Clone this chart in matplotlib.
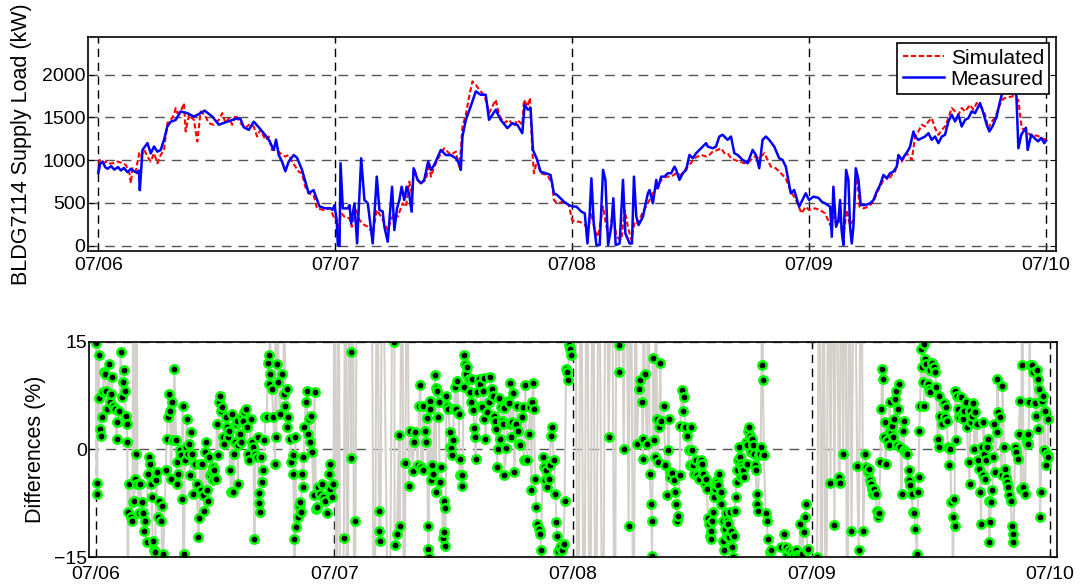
import matplotlib
matplotlib.use("Agg")
import matplotlib.pyplot as plt

plt.rcParams["font.family"] = ["Liberation Sans", "DejaVu Sans"]

# hours since 07/06 00:00
day_ticks = [0, 24, 48, 72, 96]
day_labels = ["07/06", "07/07", "07/08", "07/09", "07/10"]

# measured supply load (hour, kW)
measured = [
    (0.0, 850), (0.2, 960), (0.44, 985), (0.7, 920), (0.94, 900), (1.3, 930), (1.62, 890), (2.0, 920),
    (2.29, 880), (2.6, 910), (2.96, 860), (3.3, 900), (3.64, 870), (3.97, 850), (4.12, 880), (4.21, 650),
    (4.48, 1120), (4.98, 1200), (5.32, 1080), (5.65, 1160), (5.99, 1100), (6.33, 1120), (6.66, 1240),
    (7.0, 1395), (7.34, 1450), (7.84, 1470), (8.35, 1570), (9.02, 1550), (9.69, 1510), (10.2, 1540),
    (10.77, 1580), (11.55, 1510), (12.22, 1415), (13.06, 1450), (14.07, 1490), (14.41, 1480), (14.74, 1385),
    (15.25, 1355), (15.75, 1450), (16.26, 1385), (16.76, 1315), (17.27, 1240), (17.77, 1120), (18.01, 1240),
    (18.28, 1060), (18.61, 985), (18.95, 870), (19.29, 985), (19.79, 1060), (20.13, 1030), (20.63, 890),
    (21.31, 615), (21.81, 650), (22.41, 460), (22.99, 437), (23.5, 440), (23.73, 420), (23.93, 475),
    (24.0, 418), (24.15, 300), (24.27, 0), (24.44, 0), (24.54, 965), (24.77, 437), (25.28, 437), (25.45, 476),
    (25.62, 260), (25.95, 496), (26.22, 27), (26.63, 1023), (26.96, 535), (27.3, 496), (27.8, 27), (28.21, 808),
    (28.48, 418), (28.81, 400), (28.98, 222), (29.32, 47), (29.76, 690), (29.99, 183), (30.26, 437), (30.5, 535),
    (30.73, 690), (31.0, 535), (31.24, 690), (31.5, 600), (31.74, 398), (31.94, 906), (32.35, 770), (32.68, 730),
    (33.02, 770), (33.42, 985), (33.69, 886), (34.03, 945), (34.7, 1120), (35.21, 1060), (35.71, 1060),
    (36.22, 1023), (36.56, 960), (36.72, 886), (36.89, 1277), (37.23, 1472), (37.73, 1630), (38.24, 1805),
    (38.74, 1765), (39.25, 1765), (39.58, 1472), (40.26, 1590), (40.76, 1472), (41.44, 1375), (41.94, 1433),
    (42.45, 1414), (42.95, 1316), (43.19, 1648), (43.52, 1590), (43.79, 1610), (44.03, 1120), (44.46, 1004),
    (44.8, 867), (45.31, 848), (45.81, 828), (46.15, 613), (46.48, 594), (47.16, 516), (47.66, 476),
    (48.0, 460), (48.44, 457), (48.94, 398), (49.28, 379), (49.55, 27), (49.78, 379), (49.95, 789), (50.19, 262),
    (50.46, 8), (50.79, 8), (51.13, 887), (51.37, 770), (51.64, 8), (51.97, 222), (52.17, 555), (52.41, 8),
    (52.81, 27), (53.15, 770), (53.39, 144), (53.82, 27), (54.06, 27), (54.26, 808), (54.5, 340), (54.73, 242),
    (55.17, 340), (55.67, 613), (55.84, 652), (56.18, 496), (56.52, 770), (56.68, 672), (57.02, 808),
    (57.36, 808), (57.69, 848), (58.03, 848), (58.37, 925), (58.54, 887), (58.87, 770), (59.21, 848),
    (59.55, 887), (59.88, 1062), (60.22, 1023), (60.56, 1082), (61.06, 1140), (61.57, 1199), (61.73, 1160),
    (62.24, 1140), (62.57, 1160), (62.91, 1277), (63.25, 1297), (63.75, 1238), (64.09, 1277), (64.43, 1082),
    (64.76, 1062), (65.27, 1004), (65.77, 965), (66.28, 1120), (66.61, 1062), (66.95, 906), (67.29, 1238),
    (67.62, 1277), (67.96, 1238), (68.47, 1160), (68.97, 1023), (69.31, 1004), (69.64, 925), (70.15, 613),
    (70.49, 652), (70.99, 457), (71.33, 535), (71.66, 613),
    (72.0, 535), (72.44, 574), (72.95, 560), (73.28, 516), (73.62, 496), (74.13, 457), (74.3, 105), (74.46, 690),
    (74.73, 222), (74.97, 300), (75.14, 535), (75.31, 164), (75.48, 8), (75.75, 887), (75.98, 770), (76.15, 222),
    (76.32, 27), (76.49, 222), (76.73, 906), (77.0, 770), (77.23, 476), (77.67, 476), (78.18, 496), (78.52, 535),
    (78.85, 633), (79.19, 711), (79.53, 828), (79.87, 789), (80.2, 848), (80.54, 867), (80.88, 925), (81.05, 1062),
    (81.39, 1004), (81.72, 1062), (82.06, 1120), (82.23, 1160), (82.57, 1336), (82.74, 1277), (83.07, 1238),
    (83.41, 1258), (83.75, 1277), (84.09, 1316), (84.42, 1238), (84.76, 1277), (85.1, 1199), (85.44, 1277),
    (85.77, 1297), (86.11, 1453), (86.45, 1531), (86.79, 1453), (87.12, 1531), (87.46, 1394), (87.8, 1472),
    (88.14, 1492), (88.47, 1570), (88.81, 1550), (89.32, 1668), (89.66, 1550), (89.99, 1414), (90.26, 1336),
    (90.6, 1400), (91.0, 1512), (91.3, 1668), (91.7, 1850), (92.2, 1950), (92.7, 1900), (93.0, 1750),
    (93.2, 1140), (93.5, 1300), (93.97, 1380), (94.14, 1120), (94.5, 1300), (94.9, 1250), (95.2, 1220),
    (95.5, 1260), (95.83, 1200), (96.0, 1230),
]

# simulated supply load (hour, kW)
simulated = [
    (0.0, 867), (0.13, 1004), (0.44, 965), (0.94, 985), (1.2, 960), (1.45, 965), (1.95, 985), (2.46, 965),
    (2.79, 945), (3.13, 867), (3.3, 730), (3.47, 906), (3.8, 867), (4.14, 1082), (4.31, 1043), (4.65, 1120),
    (4.98, 1043), (5.32, 985), (5.65, 1082), (5.99, 965), (6.33, 1062), (6.66, 1120), (7.0, 1433), (7.34, 1472),
    (7.67, 1530), (7.84, 1610), (8.01, 1550), (8.35, 1570), (8.68, 1668), (8.85, 1336), (9.19, 1530),
    (9.69, 1472), (10.03, 1219), (10.37, 1570), (10.77, 1530), (11.21, 1433), (11.71, 1414), (12.22, 1472),
    (12.56, 1550), (12.89, 1433), (13.23, 1492), (13.57, 1414), (13.9, 1531), (14.41, 1433), (14.91, 1375),
    (15.25, 1414), (15.75, 1394), (16.09, 1277), (16.43, 1355), (16.93, 1238), (17.27, 1277), (17.6, 1120),
    (18.11, 1120), (18.61, 1062), (18.95, 1043), (19.29, 1062), (19.62, 985), (19.96, 925), (20.3, 867),
    (20.63, 848), (20.97, 690), (21.31, 613), (21.81, 594), (22.15, 437), (22.82, 418), (23.5, 437), (23.83, 340),
    (24.0, 350), (24.27, 222), (24.61, 380), (24.94, 340), (25.45, 320), (25.68, 222), (26.12, 437), (26.46, 300),
    (26.96, 242), (27.3, 222), (27.8, 144), (28.21, 418), (28.65, 340), (28.98, 262), (29.32, 183), (29.65, 300),
    (29.99, 380), (30.33, 340), (30.83, 496), (31.17, 457), (31.51, 750), (31.74, 610), (32.01, 906),
    (32.35, 770), (32.68, 730), (33.19, 770), (33.53, 965), (33.69, 808), (34.03, 925), (34.54, 1043),
    (35.04, 1140), (35.71, 1062), (36.22, 1101), (36.56, 925), (36.72, 1120), (36.89, 1395), (37.23, 1530),
    (37.57, 1746), (37.9, 1922), (38.24, 1882), (38.58, 1824), (38.91, 1785), (39.25, 1707), (39.58, 1550),
    (39.92, 1628), (40.26, 1707), (40.6, 1530), (41.1, 1433), (41.6, 1472), (42.11, 1395), (42.45, 1472),
    (42.95, 1414), (43.12, 1707), (43.46, 1628), (43.72, 1726), (43.96, 1120), (44.13, 848), (44.46, 1004),
    (44.8, 848), (45.47, 828), (45.98, 730), (46.15, 535), (46.48, 496), (47.16, 516), (47.66, 476),
    (48.0, 300), (48.27, 281), (48.77, 281), (49.28, 242), (49.62, 203), (49.95, 379), (50.29, 183),
    (50.63, 105), (51.13, 457), (51.47, 222), (51.8, 125), (52.14, 418), (52.48, 105), (52.98, 66),
    (53.32, 418), (53.65, 222), (53.99, 66), (54.33, 281), (54.66, 262), (55.17, 398), (55.67, 496),
    (56.01, 574), (56.35, 652), (56.68, 690), (57.02, 770), (57.53, 808), (58.03, 808), (58.54, 848),
    (59.04, 828), (59.55, 906), (59.88, 945), (60.39, 1023), (60.72, 1043), (61.06, 1062), (61.57, 1043),
    (61.9, 1062), (62.24, 1101), (62.75, 1120), (63.08, 1140), (63.42, 1082), (63.75, 1082), (64.09, 1023),
    (64.43, 1004), (64.93, 985), (65.44, 965), (65.94, 985), (66.45, 1043), (66.95, 1023), (67.46, 1082),
    (67.79, 1004), (68.13, 925), (68.63, 906), (69.14, 848), (69.64, 789), (70.15, 633), (70.49, 574),
    (70.82, 496), (71.23, 379), (71.66, 457),
    (72.0, 418), (72.61, 437), (73.11, 418), (73.62, 379), (74.13, 242), (74.46, 340), (74.8, 242),
    (75.14, 300), (75.48, 105), (75.81, 418), (76.15, 242), (76.49, 300), (76.83, 887), (77.1, 457),
    (77.5, 437), (78.01, 457), (78.52, 516), (79.02, 652), (79.36, 730), (79.7, 808), (80.03, 770),
    (80.37, 828), (80.71, 867), (81.05, 1004), (81.39, 985), (81.89, 1082), (82.4, 1004), (82.74, 1277),
    (83.07, 1336), (83.41, 1414), (83.75, 1394), (84.09, 1453), (84.42, 1492), (84.76, 1375), (85.1, 1297),
    (85.44, 1355), (85.77, 1394), (86.11, 1492), (86.45, 1610), (86.79, 1570), (87.12, 1531), (87.46, 1610),
    (87.8, 1570), (88.31, 1648), (88.64, 1590), (88.98, 1668), (89.49, 1610), (89.83, 1531), (90.16, 1375),
    (90.5, 1450), (90.84, 1500), (91.34, 1650), (91.68, 1720), (92.69, 1750), (93.2, 1700), (93.54, 1375),
    (94.05, 1336), (94.55, 1277), (95.06, 1290), (95.57, 1260), (95.9, 1238), (96.0, 1280),
]

# differences (hour, %); +-40 are off-scale samples
diff_day1 = [
    (0.0, 14.8), (0.07, -4.6), (0.13, -6.2), (0.22, 40), (0.30, 13.2), (0.32, 7.2), (0.40, 2.9), (0.50, 1.9),
    (0.57, 4.5), (0.67, 8.0), (0.81, 10.8), (0.91, 10.5), (1.01, 8.2), (1.14, 5.7), (1.28, 11.9), (1.41, 6.6),
    (1.51, 7.7), (1.61, 10.1), (1.75, 6.1), (1.91, 5.7), (2.08, 1.5), (2.15, 3.8), (2.35, 5.4), (2.48, 13.6),
    (2.62, 7.3), (2.75, 9.4), (2.82, 11.0), (2.92, 8.2), (2.99, 4.7), (3.09, 3.6), (3.16, 1.0), (3.22, -40),
    (3.26, -8.7), (3.36, -4.8), (3.49, -9.4), (3.59, -9.9), (3.69, -7.3), (3.75, 40), (3.83, -7.1), (3.93, -4.1),
    (3.99, -0.6), (4.08, 40), (4.16, -4.8), (4.36, -8.9), (4.43, -4.8), (4.60, -7.3), (4.70, -8.9), (4.83, -11.3),
    (4.97, -9.9), (5.10, -12.9), (5.20, -3.4), (5.34, -1.1), (5.44, -2.0), (5.51, -4.8), (5.61, -6.6),
    (5.71, -12.7), (5.84, -14.0), (5.98, -14.3), (6.04, -4.3), (6.11, -3.2), (6.21, -9.4), (6.38, -7.1),
    (6.51, -9.9), (6.61, -7.8), (6.70, -40), (6.78, -14.6), (7.02, -2.9), (7.12, 1.5), (7.22, 4.5), (7.32, 7.7),
    (7.45, 5.4), (7.55, -4.1), (7.69, 6.6), (7.79, 1.3), (7.89, 11.2), (8.06, 1.3), (8.12, -4.8), (8.19, -1.8),
    (8.29, -3.4), (8.46, -0.1), (8.53, -0.8), (8.63, -6.9), (8.73, 6.0), (8.80, -40), (8.86, -14.5), (8.96, -1.5),
    (9.03, 0.3), (9.13, 4.3), (9.26, -0.6), (9.33, 0.8), (9.47, -3.6), (9.57, 2.4), (9.70, -0.6), (9.80, -6.2),
    (9.97, -2.0), (10.14, -4.8), (10.31, -12.2), (10.41, -9.6), (10.47, -2.0), (10.57, -5.7), (10.71, -2.0),
    (10.81, -6.4), (10.88, -8.5), (10.98, -0.4), (11.04, 1.0), (11.14, -5.7), (11.25, -7.1), (11.38, -1.1),
    (11.51, -3.6), (11.65, -3.2), (11.75, -4.3), (11.82, -2.5), (11.92, -2.8), (12.08, -4.1), (12.15, 3.6),
    (12.32, -0.7), (12.42, 6.6), (12.49, 7.5), (12.59, 5.4), (12.69, 5.9), (12.82, 1.7), (12.92, 0.8),
    (13.06, 4.5), (13.16, 3.1), (13.33, 1.7), (13.43, 2.6), (13.49, -2.9), (13.60, -5.9), (13.70, 5.0),
    (13.83, -5.9), (13.93, -0.6), (14.00, 1.0), (14.10, 3.6), (14.17, 4.0), (14.27, -4.8), (14.33, 0.6),
    (14.50, 2.2), (14.60, 1.0), (14.74, 4.5), (14.84, 4.0), (14.94, 5.2), (15.11, 5.7), (15.17, 3.1),
    (15.27, -0.6), (15.37, -1.5), (15.58, 4.3), (15.71, 1.0), (15.84, 0.3), (15.94, -12.4), (16.05, -0.6),
    (16.18, -1.1), (16.28, 1.7), (16.38, -6.1), (16.45, -7.5), (16.52, -8.7), (16.62, -1.1), (16.72, -4.5),
    (16.85, -2.9), (16.95, 1.3), (17.05, 4.5), (17.19, 4.5), (17.29, 12.1), (17.39, 9.1), (17.46, 13.1),
    (17.50, 40), (17.56, 10.5), (17.69, 8.4), (17.86, 4.5), (18.03, -2.0), (18.08, 40), (18.13, 1.7),
    (18.19, 11.9), (18.25, 40), (18.36, 9.4), (18.53, 5.0), (18.70, 10.5), (18.87, 7.7), (18.95, 40),
    (19.03, 6.1), (19.20, 3.1), (19.27, 8.4), (19.37, 4.5), (19.54, 1.5), (19.67, -1.8), (19.81, -0.8),
    (19.87, -3.4), (19.94, -12.4), (19.98, -40), (20.04, 1.7), (20.14, -10.8), (20.28, -9.4), (20.41, -7.8),
    (20.54, -7.3), (20.64, -8.7), (20.75, -3.4), (20.81, -1.1), (20.88, -5.2), (20.98, 3.1), (21.11, 6.6),
    (21.22, 8.2), (21.32, 2.2), (21.42, 4.3), (21.55, 1.0), (21.65, 4.7), (21.75, -0.4), (21.89, -6.4),
    (21.99, 8.0), (22.16, -8.3), (22.29, -8.0), (22.39, -5.2), (22.56, -6.2), (22.73, -4.8), (22.89, -6.6),
    (23.06, -7.1), (23.23, -8.9), (23.40, -3.4), (23.50, -5.5), (23.57, -2.0), (23.73, -6.6), (23.90, -4.8),
]
diff_day2 = [
    (24.02, 40), (24.2, -40), (24.4, 40), (24.6, -40), (24.94, -12.3), (25.1, 40), (25.3, -40), (25.5, 40),
    (25.68, -1.2), (25.70, 13.5), (25.85, 40), (26.0, -40), (26.11, -10.0), (26.3, 40), (27.7, 40), (28.0, -40),
    (28.3, 40), (28.46, -8.6), (28.48, -11.4), (28.63, -12.7), (28.8, 40), (29.5, -40), (29.9, 40),
    (30.03, 14.9), (30.05, -13.3), (30.30, -11.7), (30.47, 2.0), (30.57, -10.7), (30.8, 40), (31.0, -40),
    (31.14, -1.9), (31.3, 40), (31.48, -5.1), (31.64, 2.6), (31.91, -3.0), (31.98, 1.0), (32.15, 2.4),
    (32.38, -2.1), (32.51, 6.1), (32.65, 9.0), (32.72, -2.5), (32.92, -2.8), (32.93, 6.1), (33.08, 2.6),
    (33.22, 1.1), (33.32, 4.4), (33.39, -10.7), (33.45, -13.9), (33.47, -14.9), (33.59, 6.8), (33.65, 5.7),
    (33.72, -4.2), (33.82, -2.2), (33.89, -3.4), (34.09, 10.4), (34.19, -5.9), (34.20, 8.6), (34.33, 8.2),
    (34.46, 4.5), (34.49, 6.6), (34.59, -4.5), (34.73, -2.5), (34.93, -12.3), (35.0, -7.1), (35.06, -11.5),
    (35.10, -8.2), (35.16, -13.4), (35.26, 7.4), (35.33, 6.0), (35.46, 5.7), (35.60, 2.4), (35.67, 0.3),
    (35.73, 0.2), (35.83, -0.8), (35.93, 1.3), (36.03, 5.7), (36.10, 8.7), (36.27, 5.7), (36.37, 9.5),
    (36.50, 4.9), (36.60, -3.6), (36.67, -1.3), (36.87, -3.5), (36.88, -5.1), (37.01, 13.2), (37.02, 8.7),
    (37.14, 11.9), (37.24, 10.5), (37.34, 11.5), (37.51, 9.8), (37.61, 8.0), (37.71, 6.6), (37.81, 9.8),
    (37.95, 5.5), (38.08, 3.0), (38.18, 1.7), (38.19, -1.3), (38.35, 8.0), (38.52, 9.8), (38.62, 9.1),
    (38.75, 6.1), (38.85, 5.9), (38.95, 8.2), (39.02, 4.3), (39.09, 9.9), (39.19, 1.5), (39.35, 5.2),
    (39.52, 6.6), (39.69, 10.1), (39.86, 8.4), (39.96, 7.5), (40.02, 4.7), (40.12, 4.0), (40.23, 2.9),
    (40.36, -2.5), (40.43, 0.0), (40.56, 7.2), (40.69, 1.5), (40.76, 5.9), (40.86, 4.0), (40.96, 3.6),
    (41.03, 5.8), (41.10, -3.6), (41.30, 0.2), (41.43, 6.8), (41.53, 6.4), (41.63, 3.6), (41.70, 9.2),
    (41.77, 1.7), (41.87, 3.8), (41.97, 7.8), (42.10, -3.2), (42.24, 3.6), (42.37, 6.0), (42.47, 2.6),
    (42.57, 0.8), (42.71, 0.6), (42.84, 4.5), (42.94, 5.9), (43.04, -1.5), (43.21, 9.0), (43.38, -1.4),
    (43.54, 2.2), (43.71, 5.9), (43.81, -5.6), (43.88, 6.6), (43.98, 9.2), (44.08, 5.6), (44.18, -4.1),
    (44.31, -8.0), (44.38, -10.3), (44.55, -11.0), (44.72, -11.7), (44.78, -14.0), (44.95, -1.1),
    (45.12, -2.5), (45.22, -4.3), (45.32, -2.9), (45.39, -5.2), (45.56, -4.1), (45.66, -2.2), (45.79, 1.9),
    (45.89, 3.1), (46.06, -1.5), (46.23, -6.2), (46.33, -10.1), (46.39, -12.1), (46.53, -14.1), (46.73, -13.6),
    (46.93, -14.0), (47.06, -13.1), (47.16, -7.1), (47.30, 11.2), (47.40, 10.8), (47.50, 9.7), (47.63, 14.5),
    (47.73, 14.0), (47.80, 13.1),
]
diff_day3 = [
    (48.2, 40), (48.5, -40), (48.8, 40), (49.1, -40), (49.4, 40), (49.7, -40), (50.0, 40), (50.3, -40),
    (50.6, 40), (51.0, -40), (51.3, 40), (51.59, 1.7), (51.9, 40), (52.2, -40), (52.4, 40), (52.59, 14.5),
    (52.63, 10.8), (52.8, 40), (53.10, 0.0), (53.3, 40), (53.60, -10.7), (53.8, 40), (54.1, -40), (54.3, 40),
    (54.44, 0.7), (54.61, 8.4), (54.77, 9.6), (54.94, 6.6), (55.01, 1.5), (55.04, -1.3), (55.1, 40),
    (55.21, 10.5), (55.44, 0.8), (55.6, 40), (55.71, -3.4), (55.85, -7.6), (55.95, -14.8), (55.98, -9.9),
    (56.05, 12.7), (56.18, 1.3), (56.28, -1.1), (56.3, 40), (56.45, 4.3), (56.55, -1.8), (56.65, 3.1),
    (56.79, 12.0), (56.85, 4.0), (57.12, 6.1), (57.29, -2.1), (57.46, -6.4), (57.52, -0.1), (57.62, 4.3),
    (57.72, -3.2), (57.79, -3.8), (57.96, -3.3), (58.13, -4.3), (58.29, -5.9), (58.39, -7.6), (58.46, -9.9),
    (58.56, -9.2), (58.73, -3.6), (58.80, 3.3), (58.96, 8.3), (59.06, 5.4), (59.13, 7.3), (59.30, 3.1),
    (59.47, 1.9), (59.63, -0.1), (59.73, -2.2), (59.85, 3.1), (60.02, -0.1), (60.12, -2.2), (60.18, -3.4),
    (60.35, -1.5), (60.52, -3.6), (60.69, -4.1), (60.79, -2.0), (60.85, -1.5), (61.02, -2.0), (61.12, -3.4),
    (61.26, -4.8), (61.36, -4.1), (61.46, -5.5), (61.59, -9.6), (61.69, -10.3), (61.76, -12.0), (61.86, -11.3),
    (61.93, -12.4), (62.03, -9.9), (62.13, -8.7), (62.19, -6.6), (62.26, -5.5), (62.39, -4.8), (62.46, -4.3),
    (62.53, -4.5), (62.63, -5.0), (62.73, -3.4), (62.79, -6.2), (62.86, -7.6), (62.93, -5.9), (63.06, -9.9),
    (63.13, -12.7), (63.20, -14.0), (63.26, -11.0), (63.36, -8.9), (63.46, -9.9), (63.53, -12.0),
    (63.63, -10.3), (63.70, -12.2), (63.80, -8.7), (63.87, -11.3), (64.03, -13.6), (64.13, -14.9),
    (64.20, -12.0), (64.27, -8.5), (64.37, -6.6), (64.47, -4.5), (64.54, -2.9), (64.60, -1.5), (64.70, 0.3),
    (64.80, -1.1), (64.87, -2.0), (64.94, -3.8), (65.04, -2.5), (65.14, -2.9), (65.20, -3.8), (65.37, 1.0),
    (65.47, -2.0), (65.54, 0.6), (65.61, 2.6), (65.71, 3.1), (65.81, 1.9), (65.87, -0.4), (66.04, 1.5),
    (66.14, 0.6), (66.21, -0.6), (66.28, -2.2), (66.38, -2.9), (66.48, -6.2), (66.54, -7.6), (66.61, -8.5),
    (66.71, -0.8), (66.81, -0.6), (66.88, 0.3), (66.98, 11.7), (67.04, 40), (67.11, 9.7), (67.21, -0.8),
    (67.38, -8.9), (67.48, -9.9), (67.61, -12.4), (67.81, -14.3), (67.95, -14.0), (68.89, -13.5),
    (69.22, -11.7), (69.39, -13.6), (69.56, -14.5), (69.72, -14.0), (69.89, -14.9), (70.06, -14.3),
    (70.22, -14.7), (70.39, -14.0), (70.56, -14.7), (70.73, -14.7), (70.89, -10.3), (71.06, -14.5),
    (71.23, -11.5), (71.33, -9.4), (71.43, -7.6), (71.56, -14.0), (71.63, -13.8),
]
diff_day4 = [
    (72.57, -14.9), (72.8, 40), (73.0, -40), (73.2, 40), (73.45, -40), (73.7, 40), (73.91, -4.6), (74.1, 40),
    (74.31, -10.5), (74.5, 40), (74.74, -3.8), (74.84, -4.6), (75.0, 40), (75.18, -0.6), (75.4, 40),
    (75.6, -40), (75.8, 40), (76.02, -11.3), (76.3, 40), (76.59, -2.3), (76.75, -14.0), (77.0, 40),
    (77.19, -11.4), (77.42, -0.6), (77.52, -2.5), (77.69, -3.2), (77.82, -2.7), (77.92, -4.3), (78.02, -4.8),
    (78.09, -5.5), (78.19, -6.2), (78.33, -5.5), (78.46, -6.2), (78.59, -8.5), (78.66, -9.4), (78.79, -8.9),
    (78.93, -1.8), (79.03, 5.7), (79.10, 11.2), (79.16, 9.8), (79.26, 1.7), (79.36, 3.8), (79.46, -2.0),
    (79.60, 1.3), (79.76, 0.6), (79.86, 6.6), (79.93, 2.6), (80.03, 2.4), (80.13, 3.3), (80.20, 1.7),
    (80.33, 4.3), (80.43, 7.0), (80.53, 8.2), (80.63, 0.6), (80.73, 5.7), (80.84, 9.1), (80.94, 0.3),
    (81.07, -6.2), (81.17, 2.6), (81.27, 4.0), (81.34, -0.1), (81.44, -0.4), (81.61, -0.6), (81.77, -2.9),
    (81.84, -4.3), (81.94, -5.0), (82.07, -6.2), (82.21, -8.7), (82.34, -8.9), (82.44, -11.0), (82.61, -14.5),
    (82.71, -5.9), (82.78, -3.8), (82.84, 2.6), (82.94, 6.1), (83.01, 14.0), (83.11, 11.5), (83.21, 9.4),
    (83.28, 14.7), (83.35, 6.1), (83.45, 12.6), (83.55, 11.9), (83.68, 9.1), (83.78, 8.4), (83.88, 11.0),
    (83.95, 8.0), (84.12, 12.1), (84.28, 11.5), (84.45, 10.8), (84.55, 8.7), (84.68, 1.5), (84.78, 0.3),
    (84.85, 7.5), (84.95, 4.7), (85.12, 3.6), (85.29, 6.4), (85.39, 4.5), (85.55, 5.9), (85.62, 4.0),
    (85.72, 0.3), (85.82, -2.2), (85.96, 0.1), (86.06, -7.3), (86.19, -9.4), (86.22, -40), (86.29, -6.9),
    (86.39, -10.6), (86.46, 8.2), (86.56, 1.3), (86.63, 7.5), (86.79, 5.7), (86.89, 4.5), (87.03, 7.3),
    (87.13, 5.0), (87.29, 4.3), (87.39, 5.4), (87.50, 6.6), (87.63, 3.1), (87.80, -1.8), (87.90, -4.8),
    (87.96, 5.4), (88.06, 3.8), (88.16, 4.7), (88.30, 6.4), (88.40, 0.1), (88.50, 5.2), (88.63, 3.6),
    (88.73, -1.5), (88.87, -2.7), (88.97, -5.9), (89.07, -10.3), (89.17, 0.3), (89.24, -3.6), (89.30, 3.8),
    (89.40, -0.6), (89.50, -4.1), (89.57, -1.5), (89.64, 0.3), (89.74, 1.5), (89.84, -7.1), (89.90, -12.9),
    (89.97, -10.1), (90.07, -7.3), (90.21, -5.7), (90.31, -1.1), (90.41, 3.6), (90.51, -3.2), (90.64, 2.4),
    (90.71, 9.8), (90.81, 5.2), (90.98, 4.5), (91.14, -3.6), (91.21, 8.9), (91.38, 0.3), (91.48, -2.7),
    (91.58, -3.8), (91.71, -4.5), (91.81, -5.2), (91.91, -6.4), (92.05, -7.1), (92.15, -10.6), (92.25, -11.7),
    (92.32, -12.9), (92.48, 0.3), (92.58, -0.4), (92.75, -1.3), (92.85, 2.2), (92.98, 6.8), (93.08, -5.5),
    (93.15, 11.7), (93.2, 40), (93.32, -5.2), (93.49, -6.2), (93.59, 1.7), (93.65, 1.0), (93.75, 2.2),
    (93.82, 0.8), (93.92, 6.6), (93.95, 40), (93.99, 11.7), (94.16, 11.7), (94.32, 10.8), (94.49, 6.4),
    (94.59, 4.7), (94.66, 11.0), (94.76, 9.8), (94.82, 2.9), (94.92, 8.4), (94.99, -9.4), (95.06, -5.9),
    (95.16, 6.8), (95.33, 7.5), (95.39, -0.1), (95.49, 5.4), (95.56, -2.2), (95.66, -0.6), (95.76, -1.1),
    (95.83, 4.3),
]

meas_h, meas_kw = zip(*measured)
sim_h, sim_kw = zip(*simulated)
diff_h, diff_pct = zip(*(diff_day1 + diff_day2 + diff_day3 + diff_day4))

fig = plt.figure(figsize=(10.8, 5.88), dpi=100)
ax1 = fig.add_axes([0.0812, 0.5736, 0.8963, 0.3640])
ax2 = fig.add_axes([0.0827, 0.0522, 0.8957, 0.3667])

# top: supply load
ax1.plot(sim_h, sim_kw, color="red", lw=1.5, ls="--", dashes=(2.5, 1.3), label="Simulated")
ax1.plot(meas_h, meas_kw, color="blue", lw=1.8, label="Measured")
ax1.set_xlim(-1.07, 96.98)
ax1.set_ylim(-58, 2444)
ax1.set_yticks([0, 500, 1000, 1500, 2000])
ax1.set_ylabel("BLDG7114 Supply Load (kW)", fontsize=15.5)
ax1.yaxis.set_label_coords(-0.058, 0.5)
ax1.tick_params(axis="x", pad=4.5)
leg = ax1.legend(loc="upper right", bbox_to_anchor=(0.9931, 0.969), borderaxespad=0,
                 fontsize=15, handlelength=2.0, handletextpad=0.3, labelspacing=0.1,
                 borderpad=0.25, fancybox=False, framealpha=1)
leg.get_frame().set_edgecolor("black")
leg.get_frame().set_linewidth(1.2)

# bottom: differences
ax2.plot(diff_h, diff_pct, color="#d3cfca", lw=1.5, marker="o", ms=6, mfc="black",
         mec="#00ff00", mew=1.8)
ax2.set_xlim(-0.67, 96.67)
ax2.set_ylim(-15, 15)
ax2.set_yticks([-15, 0, 15])
ax2.set_ylabel("Differences (%)", fontsize=15.5)
ax2.yaxis.set_label_coords(-0.045, 0.5)
ax2.tick_params(axis="x", pad=6.5)

for ax in (ax1, ax2):
    ax.set_xticks(day_ticks)
    ax.set_xticklabels(day_labels)
    ax.tick_params(direction="in", length=4, labelsize=14, top=True, right=True)
    ax.tick_params(axis="y", pad=1.5)
    ax.xaxis.grid(True, color="black", ls=(0, (6, 4)), lw=1)
    ax.yaxis.grid(True, color="#555555", ls=(0, (7, 5)), lw=1)
    for sp in ax.spines.values():
        sp.set_linewidth(1.2)

fig.savefig("out.png", dpi=100)
